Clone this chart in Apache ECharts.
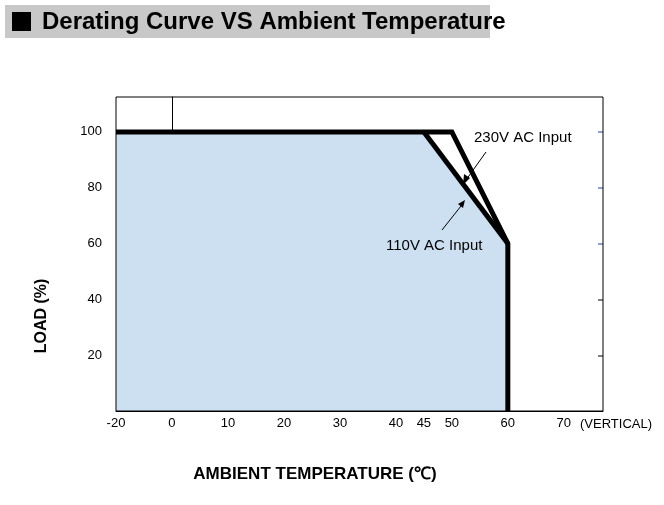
<!DOCTYPE html>
<html><head><meta charset="utf-8">
<script src="https://cdn.jsdelivr.net/npm/echarts@6/dist/echarts.min.js"></script>
<style>html,body{margin:0;padding:0;background:#fff}#c{width:664px;height:505px}</style>
</head><body><div id="c"></div>
<script>
// x axis: the -20..0 span is drawn compressed (half width); internal value -10 represents -20
const xTickLabels = {'-10':'-20','0':'0','10':'10','20':'20','30':'30','40':'40','45':'45','50':'50','60':'60','70':'70'};
const yTickLabels = [20,40,60,80,100];
const line230 = [[-10,100],[50,100],[60,60],[60,0]];
const line110 = [[45,100],[60,60]];
const area110 = [[-10,100],[45,100],[60,60],[60,0]];
const F = '"Liberation Sans Narrow","Liberation Sans",Arial,sans-serif';
const chart = echarts.init(document.getElementById('c'));
chart.setOption({
  animation:false,
  grid:{left:116,right:61,top:97,bottom:94},
  xAxis:{type:'value',min:-10,max:77,interval:5,
    axisLine:{lineStyle:{color:'#000',width:1}},
    axisTick:{show:false},splitLine:{show:false},
    axisLabel:{color:'#000',fontFamily:F,fontSize:13,margin:6,showMaxLabel:false,
      formatter:v=>xTickLabels[String(v)]||''}},
  yAxis:{type:'value',min:0,max:112.5,interval:20,
    axisLine:{show:true,lineStyle:{color:'#000'}},
    axisTick:{show:true,inside:true,length:5,lineStyle:{color:'#000'}},
    splitLine:{show:false},
    axisLabel:{color:'#000',fontFamily:F,fontSize:13,margin:14,showMaxLabel:false,
      formatter:v=>yTickLabels.includes(v)?String(v):''}},
  series:[
    {type:'line',data:area110,symbol:'none',lineStyle:{width:0},areaStyle:{color:'#cde0f2',opacity:1},z:1},
    {type:'line',data:line230,symbol:'none',lineStyle:{color:'#000',width:5,join:'miter'},z:3},
    {type:'line',data:line110,symbol:'none',lineStyle:{color:'#000',width:5},z:3}
  ],
  graphic:[
    {type:'rect',shape:{x:5,y:5,width:485,height:33},style:{fill:'#c8c8c8'}},
    {type:'rect',shape:{x:12,y:12,width:19,height:19},style:{fill:'#000'}},
    {type:'text',x:42,y:22,style:{text:'Derating Curve VS Ambient Temperature',font:'bold 24px '+F,fill:'#000',textVerticalAlign:'middle'}},
    {type:'rect',shape:{x:116,y:97,width:487,height:314},style:{fill:'none',stroke:'#000',lineWidth:1},z:10},
    {type:'text',x:474,y:138,style:{text:'230V AC Input',font:'15px '+F,fill:'#000',textVerticalAlign:'middle'},z:20},
    {type:'line',shape:{x1:486,y1:152,x2:466,y2:180},style:{stroke:'#000',lineWidth:1},z:20},
    {type:'polygon',shape:{points:[[463,185],[464,174],[470,178]]},style:{fill:'#000'},z:20},
    {type:'text',x:386,y:246,style:{text:'110V AC Input',font:'15px '+F,fill:'#000',textVerticalAlign:'middle'},z:20},
    {type:'line',shape:{x1:442,y1:230,x2:461,y2:206},style:{stroke:'#000',lineWidth:1},z:20},
    {type:'polygon',shape:{points:[[465,200],[458,204],[463,208]]},style:{fill:'#000'},z:20},
    {type:'text',x:580,y:424,style:{text:'(VERTICAL)',font:'13px '+F,fill:'#000',textVerticalAlign:'middle'}},
    {type:'text',x:42,y:316,rotation:Math.PI/2,style:{text:'LOAD (%)',font:'bold 16px '+F,fill:'#000',textAlign:'center',textVerticalAlign:'middle'}},
    {type:'text',x:315,y:474,style:{text:'AMBIENT TEMPERATURE (℃)',font:'bold 17px '+F,fill:'#000',textAlign:'center',textVerticalAlign:'middle'}},
    {type:'line',shape:{x1:598,y1:132,x2:603,y2:132},style:{stroke:'#2040a0'}},
    {type:'line',shape:{x1:598,y1:188,x2:603,y2:188},style:{stroke:'#2040a0'}},
    {type:'line',shape:{x1:598,y1:244,x2:603,y2:244},style:{stroke:'#2040a0'}},
    {type:'line',shape:{x1:598,y1:300,x2:603,y2:300},style:{stroke:'#000'}},
    {type:'line',shape:{x1:598,y1:356,x2:603,y2:356},style:{stroke:'#000'}}
  ]
});
</script></body></html>
